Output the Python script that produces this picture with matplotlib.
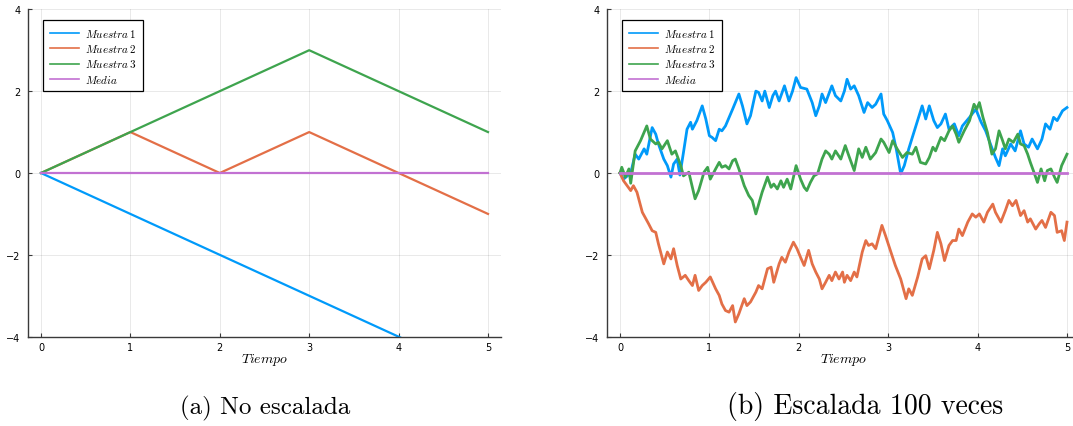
import numpy as np
import matplotlib
matplotlib.use("Agg")
import matplotlib.pyplot as plt

plt.rcParams['mathtext.fontset'] = 'cm'
plt.rcParams['font.family'] = 'DejaVu Sans'

# Colores por defecto de Plots.jl
colors = ['#009AFA', '#E36F47', '#3EA44E', '#C271D2']
labels = [r'$Muestra\,1$', r'$Muestra\,2$', r'$Muestra\,3$', r'$Media$']

# (a) paseo aleatorio sin escalar, pasos enteros
t_a = [0, 1, 2, 3, 4, 5]
a_m1 = [0, -1, -2, -3, -4, -5]
a_m2 = [0, 1, 0, 1, 0, -1]
a_m3 = [0, 1, 2, 3, 2, 1]
a_media = [0, 0, 0, 0, 0, 0]

t_b1 = [0, 0.04, 0.12, 0.17, 0.21, 0.27, 0.30, 0.36, 0.40, 0.43, 0.49, 0.53, 0.57, 0.60,
        0.64, 0.67, 0.71, 0.75, 0.79, 0.81, 0.86, 0.92, 0.96, 1.0, 1.03, 1.07, 1.11, 1.14,
        1.18, 1.26, 1.33, 1.37, 1.42, 1.46, 1.52, 1.55, 1.59, 1.62, 1.67, 1.71, 1.74, 1.78,
        1.84, 1.89, 1.93, 1.97, 2.02, 2.09, 2.15, 2.19, 2.23, 2.26, 2.30, 2.37, 2.41, 2.47,
        2.51, 2.54, 2.58, 2.62, 2.67, 2.73, 2.77, 2.82, 2.86, 2.92, 2.95, 2.99, 3.05, 3.09,
        3.14, 3.18, 3.23, 3.31, 3.38, 3.42, 3.46, 3.51, 3.55, 3.59, 3.64, 3.68, 3.74, 3.79,
        3.83, 3.91, 3.98, 4.04, 4.09, 4.15, 4.20, 4.24, 4.28, 4.31, 4.37, 4.42, 4.48, 4.52,
        4.57, 4.61, 4.67, 4.72, 4.76, 4.81, 4.85, 4.89, 4.95, 5.0]
b_m1 = [0, -0.15, 0, 0.46, 0.34, 0.59, 0.46, 1.11, 0.95, 0.71, 0.34, 0.18, -0.1, 0.22,
        0.34, -0.05, 0.5, 1.07, 1.24, 1.07, 1.28, 1.64, 1.32, 0.91, 0.87, 0.79, 1.07, 1.03,
        1.15, 1.56, 1.93, 1.64, 1.2, 1.4, 2.0, 1.97, 1.76, 2.0, 1.6, 1.89, 2.0, 1.76,
        2.13, 1.76, 2.0, 2.33, 2.09, 2.05, 1.72, 1.4, 1.64, 1.93, 1.72, 2.13, 1.89, 1.76,
        2.0, 2.29, 2.05, 2.13, 1.89, 1.48, 1.72, 1.6, 1.68, 1.93, 1.44, 1.28, 0.99, 0.59,
        -0.02, 0.18, 0.59, 1.15, 1.64, 1.32, 1.64, 1.28, 1.11, 1.2, 1.44, 1.07, 1.2, 0.91,
        1.15, 1.36, 1.56, 1.24, 1.03, 0.67, 0.38, 0.18, 0.59, 0.42, 0.71, 0.54, 1.03, 0.71,
        0.63, 0.83, 0.59, 0.83, 1.2, 1.07, 1.36, 1.28, 1.52, 1.6]

t_b2 = [0, 0.04, 0.08, 0.12, 0.15, 0.19, 0.25, 0.29, 0.32, 0.36, 0.40, 0.43, 0.49, 0.53,
        0.57, 0.60, 0.64, 0.68, 0.73, 0.77, 0.81, 0.84, 0.88, 0.92, 0.96, 1.01, 1.07, 1.11,
        1.14, 1.18, 1.22, 1.26, 1.29, 1.33, 1.39, 1.42, 1.46, 1.52, 1.55, 1.59, 1.65, 1.69,
        1.72, 1.78, 1.81, 1.85, 1.89, 1.94, 1.98, 2.02, 2.06, 2.11, 2.15, 2.19, 2.23, 2.26,
        2.30, 2.34, 2.37, 2.41, 2.45, 2.49, 2.51, 2.54, 2.58, 2.62, 2.65, 2.71, 2.75, 2.78,
        2.82, 2.86, 2.93, 2.97, 3.03, 3.08, 3.14, 3.20, 3.23, 3.27, 3.33, 3.38, 3.42, 3.46,
        3.51, 3.55, 3.59, 3.63, 3.68, 3.72, 3.76, 3.79, 3.83, 3.89, 3.94, 3.98, 4.02, 4.07,
        4.11, 4.17, 4.20, 4.26, 4.31, 4.35, 4.39, 4.43, 4.48, 4.52, 4.56, 4.59, 4.65, 4.69,
        4.72, 4.76, 4.82, 4.86, 4.89, 4.94, 4.97, 5.0]
b_m2 = [0, -0.19, -0.31, -0.43, -0.31, -0.47, -0.96, -1.12, -1.24, -1.41, -1.45, -1.73, -2.22, -1.93,
        -2.1, -1.85, -2.26, -2.59, -2.5, -2.63, -2.75, -2.5, -2.87, -2.75, -2.67, -2.54, -2.83, -2.99,
        -3.2, -3.36, -3.4, -3.24, -3.64, -3.44, -3.07, -3.24, -3.15, -2.91, -2.75, -2.83, -2.34, -2.3,
        -2.67, -2.22, -2.06, -2.18, -1.93, -1.69, -1.85, -2.06, -2.26, -1.89, -2.22, -2.42, -2.59, -2.83,
        -2.67, -2.5, -2.63, -2.42, -2.59, -2.42, -2.67, -2.5, -2.63, -2.42, -2.54, -1.93, -1.65, -1.77,
        -1.73, -1.85, -1.28, -1.53, -1.93, -2.26, -2.59, -3.07, -2.83, -2.99, -2.54, -2.1, -2.02, -2.34,
        -1.89, -1.45, -1.73, -2.14, -1.77, -1.65, -1.65, -1.37, -1.53, -1.2, -1.0, -1.08, -1.0, -1.2,
        -0.96, -0.76, -0.96, -1.2, -0.92, -0.67, -0.8, -0.67, -1.04, -0.92, -1.2, -1.12, -1.37, -1.24,
        -1.16, -1.33, -0.96, -1.04, -1.45, -1.41, -1.65, -1.2]

t_b3 = [0, 0.02, 0.06, 0.10, 0.12, 0.17, 0.23, 0.30, 0.34, 0.40, 0.43, 0.47, 0.53, 0.58,
        0.62, 0.68, 0.71, 0.77, 0.84, 0.88, 0.94, 0.98, 1.01, 1.07, 1.11, 1.14, 1.18, 1.22,
        1.26, 1.29, 1.33, 1.39, 1.44, 1.48, 1.52, 1.59, 1.65, 1.69, 1.72, 1.76, 1.80, 1.83,
        1.87, 1.91, 1.97, 2.02, 2.06, 2.09, 2.13, 2.17, 2.21, 2.26, 2.30, 2.34, 2.37, 2.41,
        2.47, 2.52, 2.56, 2.62, 2.67, 2.71, 2.75, 2.80, 2.86, 2.92, 2.95, 3.01, 3.05, 3.10,
        3.16, 3.21, 3.27, 3.31, 3.36, 3.42, 3.46, 3.50, 3.53, 3.59, 3.63, 3.68, 3.72, 3.76,
        3.79, 3.85, 3.91, 3.96, 3.99, 4.02, 4.06, 4.11, 4.16, 4.20, 4.24, 4.28, 4.31, 4.35,
        4.40, 4.45, 4.48, 4.52, 4.56, 4.59, 4.63, 4.67, 4.71, 4.75, 4.78, 4.82, 4.86, 4.89,
        4.94, 5.0]
b_m3 = [0, 0.14, -0.1, 0.1, -0.25, 0.54, 0.79, 1.15, 0.83, 0.71, 0.75, 0.59, 0.79, 0.46,
        0.54, 0.18, -0.07, 0.02, -0.63, -0.43, 0.02, 0.14, -0.15, 0.1, 0.26, 0.14, 0.18, 0.1,
        0.3, 0.34, 0.1, -0.31, -0.55, -0.67, -1.0, -0.47, -0.1, -0.35, -0.27, -0.39, -0.19, -0.35,
        -0.15, -0.39, 0.18, -0.15, -0.35, -0.43, -0.23, -0.07, -0.02, 0.34, 0.54, 0.46, 0.34, 0.54,
        0.34, 0.67, 0.42, 0.06, 0.59, 0.38, 0.63, 0.34, 0.5, 0.83, 0.75, 0.5, 0.79, 0.59,
        0.38, 0.5, 0.46, 0.63, 0.26, 0.22, 0.38, 0.63, 0.54, 0.87, 0.79, 1.03, 1.15, 0.95,
        0.75, 1.03, 1.28, 1.68, 1.56, 1.72, 1.36, 0.99, 0.46, 0.59, 1.03, 0.79, 0.59, 0.83,
        0.75, 0.95, 0.71, 0.67, 0.46, 0.26, 0.02, -0.23, 0.1, -0.19, 0.06, 0.1, -0.1, -0.23,
        0.18, 0.46]

t_media = [0, 5]
b_media = [0, 0]

fig = plt.figure(figsize=(10.73, 4.27), dpi=100)
ax_a = fig.add_axes([0.0257, 0.2091, 0.4416, 0.7668])
ax_b = fig.add_axes([0.5653, 0.2091, 0.4416, 0.7668])


def style_axes(ax):
    ax.set_xlim(-0.15, 5.15)
    ax.set_ylim(-4, 4)
    ax.set_xticks(range(6))
    ax.set_yticks([-4, -2, 0, 2, 4])
    ax.grid(True, color='black', alpha=0.1, linewidth=0.6)
    ax.set_axisbelow(True)
    for side in ['top', 'right']:
        ax.spines[side].set_visible(False)
    for side in ['left', 'bottom']:
        ax.spines[side].set_color('#3a3a3a')
        ax.spines[side].set_linewidth(1.0)
    ax.tick_params(direction='in', length=3, width=0.8, color='#3a3a3a',
                   labelsize=7, labelcolor='black')
    ax.tick_params(axis='x', pad=4)
    ax.tick_params(axis='y', pad=5)
    ax.set_xlabel(r'$Tiempo$', fontsize=10)
    ax.xaxis.set_label_coords(0.5, -0.045)
    leg = ax.legend(loc='upper left', bbox_to_anchor=(0.0325, 0.967), borderaxespad=0,
                    fontsize=8, frameon=True, fancybox=False, framealpha=1,
                    edgecolor='black', handlelength=2.6, handletextpad=0.6,
                    labelspacing=0.3, borderpad=0.6)
    leg.get_frame().set_linewidth(0.9)
    for h in leg.get_lines():
        h.set_linewidth(1.2)


series_a = [a_m1, a_m2, a_m3, a_media]
for y, c, lab in zip(series_a, colors, labels):
    ax_a.plot(t_a, y, color=c, linewidth=1.6, label=lab)
style_axes(ax_a)

series_b = [(t_b1, b_m1), (t_b2, b_m2), (t_b3, b_m3), (t_media, b_media)]
for (t, y), c, lab in zip(series_b, colors, labels):
    ax_b.plot(t, y, color=c, linewidth=2.0, label=lab)
style_axes(ax_b)

fig.text(0.247, 0.03, '(a) No escalada', fontfamily='cmr10', fontsize=18,
         ha='center', va='baseline')
fig.text(0.806, 0.03, '(b) Escalada 100 veces', fontfamily='cmr10', fontsize=20,
         ha='center', va='baseline')

fig.savefig('out.png', dpi=100)
